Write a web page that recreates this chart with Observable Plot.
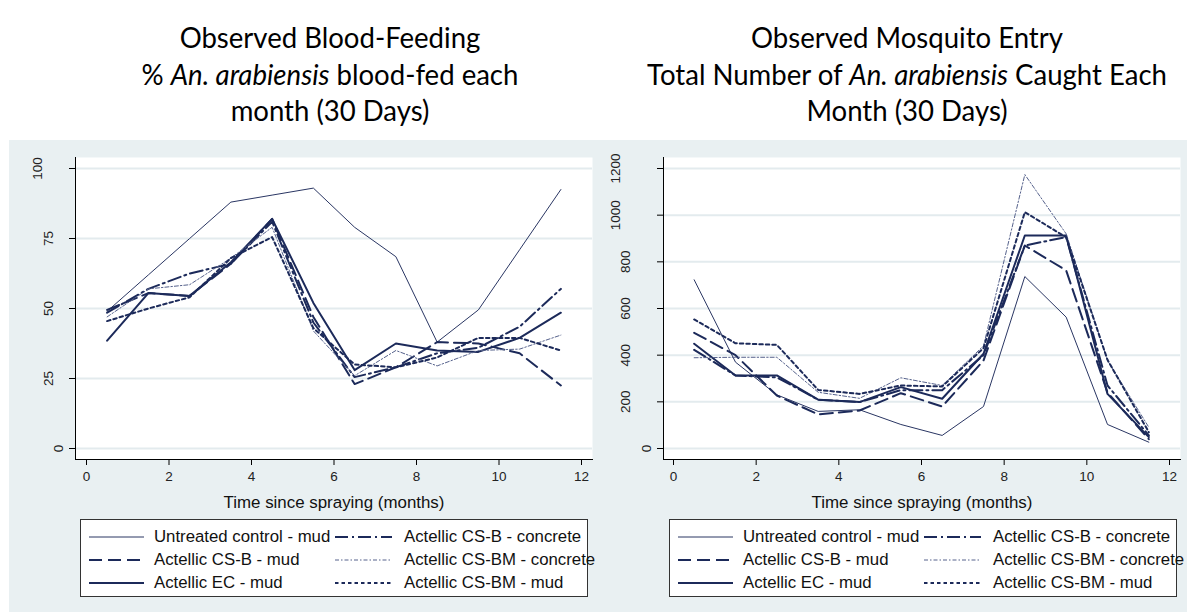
<!DOCTYPE html>
<html>
<head>
<meta charset="utf-8">
<script src="https://cdn.jsdelivr.net/npm/d3@7"></script>
<script src="https://cdn.jsdelivr.net/npm/@observablehq/plot@0.6"></script>
<style>
  body { margin: 0; background: #fff; }
  #wrap { position: relative; width: 1187px; height: 612px; overflow: hidden; font-family: "Liberation Sans", Arial, sans-serif; }
  .bg { position: absolute; left: 9px; top: 140px; width: 1178px; height: 472px; background: #e9f0f2; }
  .title { position: absolute; top: 19px; text-align: center; font-family: Lato, "Open Sans", sans-serif; font-size: 29px; line-height: 36.5px; color: #000; white-space: nowrap; transform: translateX(-50%) scaleX(0.95); }
  .plot { position: absolute; top: 140px; }
  .legend { position: absolute; top: 519px; width: 508px; height: 78px; border: 1px solid #333; background: #fff; box-sizing: border-box; }
  .legend svg { position: absolute; }
  .legend span { position: absolute; font-size: 16.8px; color: #111; white-space: nowrap; line-height: 20px; }
</style>
</head>
<body>
<div id="wrap">
  <div class="bg"></div>
  <div class="title" id="t1" style="left:330px"></div>
  <div class="title" id="t2" style="left:907px"></div>
  <div class="plot" id="p1" style="left:9px"></div>
  <div class="plot" id="p2" style="left:593px"></div>
  <div class="legend" id="l1" style="left:80px"></div>
  <div class="legend" id="l2" style="left:669px"></div>
</div>
<script>
// ---- data ----
const months = [0.5, 1.5, 2.5, 3.5, 4.5, 5.5, 6.5, 7.5, 8.5, 9.5, 10.5, 11.5];
const seriesNames = [
  "Untreated control - mud",
  "Actellic CS-B - mud",
  "Actellic EC - mud",
  "Actellic CS-B - concrete",
  "Actellic CS-BM - concrete",
  "Actellic CS-BM - mud"
];
// % blood-fed
const bfUntreated = [49, 62, 75, 88, 90.5, 93, 79, 68.5, 38, 49.5, 71, 92.5];
const bfCsbMud    = [49.5, 55.5, 54.5, 66, 82, 47, 23, 29, 38, 37.5, 34, 22.5];
const bfEcMud     = [38.5, 55.5, 54.5, 66.5, 82, 52, 28, 37.5, 35, 34.5, 39.5, 48.5];
const bfCsbConc   = [48.5, 57, 62.5, 66, 81, 45, 25.5, 29, 34, 36, 43.5, 57];
const bfCsbmConc  = [47, 57, 58.5, 68, 79, 42, 26, 35, 29.5, 35, 35.5, 40.5];
const bfCsbmMud   = [45.5, 50, 54, 68, 75.5, 43, 30, 29, 32.5, 39.5, 39.5, 35];
// total caught
const meUntreated = [723, 370, 230, 159, 166, 103, 56, 180, 737, 563, 103, 27];
const meCsbMud    = [496, 400, 227, 146, 163, 237, 180, 377, 870, 763, 240, 40];
const meEcMud     = [449, 313, 313, 209, 199, 263, 213, 406, 913, 913, 234, 49];
const meCsbConc   = [423, 313, 305, 209, 199, 250, 250, 400, 870, 906, 270, 56];
const meCsbmConc  = [389, 391, 391, 241, 215, 303, 270, 440, 1174, 920, 377, 91];
const meCsbmMud   = [553, 451, 444, 251, 234, 270, 266, 430, 1013, 905, 380, 70];

const xTicks = [0, 2, 4, 6, 8, 10, 12];
const bfTicks = [0, 25, 50, 75, 100];
const meTicks = [0, 200, 400, 600, 800, 1000, 1200];
const xLabel = "Time since spraying (months)";
const title1 = ["Observed Blood-Feeding", "% <i>An. arabiensis</i> blood-fed each", "month (30 Days)"];
const title2 = ["Observed Mosquito Entry", "Total Number of <i>An. arabiensis</i> Caught Each", "Month (30 Days)"];

// ---- styles ----
const navy = "#1c2a5a";
const styles = {
  "Untreated control - mud":   {w: 1,   dash: null,        color: "#2a3663"},
  "Actellic CS-B - mud":       {w: 2,   dash: "13 6",      color: navy},
  "Actellic EC - mud":         {w: 2,   dash: null,        color: navy},
  "Actellic CS-B - concrete":  {w: 2,   dash: "13 4 2 4",  color: navy},
  "Actellic CS-BM - concrete": {w: 1,   dash: "4 2 1.5 2", color: "#56628c"},
  "Actellic CS-BM - mud":      {w: 2,   dash: "3.5 3",     color: navy}
};

document.getElementById("t1").innerHTML = title1.join("<br>");
document.getElementById("t2").innerHTML = title2.join("<br>");

function chart(values, yMax, yTicks, width, marginLeft, marginRight, insetLeft, insetRight) {
  const marks = [
    Plot.frame({fill: "white", stroke: null}),
    Plot.gridY(yTicks, {stroke: "#e3ebee", strokeOpacity: 1, strokeWidth: 2}),
    Plot.frame({anchor: "left", stroke: "#000", strokeWidth: 1}),
    Plot.frame({anchor: "bottom", stroke: "#000", strokeWidth: 1}),
    Plot.axisX(xTicks, {tickSize: 6, tickPadding: 6, fontSize: 13.5, label: null, stroke: "#000", fill: "#222"}),
    Plot.axisY(yTicks, {tickSize: 6, tickFormat: () => "", label: null, stroke: "#000"}),
    Plot.text([xLabel], {frameAnchor: "bottom", dy: 43, lineAnchor: "middle", fontSize: 16.9, fill: "#111"})
  ];
  const byLen = d3.group(yTicks, t => String(t).length);
  for (const [len, ticks] of byLen) {
    marks.push(Plot.text(ticks, {y: d => d, text: d => String(d), frameAnchor: "left", rotate: -90,
      dx: -(16.5 + 10.5 * (len - 1)), textAnchor: "middle", lineAnchor: "middle", fontSize: 13.5, fill: "#222"}));
  }
  seriesNames.forEach((s, i) => {
    const st = styles[s];
    const rows = months.map((m, j) => ({month: m, value: values[i][j]}));
    marks.push(Plot.line(rows, {x: "month", y: "value", stroke: st.color, strokeWidth: st.w,
      strokeDasharray: st.dash || undefined}));
  });
  return Plot.plot({
    width, height: 380,
    marginTop: 17, marginBottom: 61, marginLeft, marginRight,
    x: {domain: [0, 12], insetLeft, insetRight},
    y: {domain: [0, yMax], insetTop: 11, insetBottom: 11},
    style: {background: "transparent", fontFamily: "'Liberation Sans', Arial, sans-serif", overflow: "visible"},
    marks
  });
}

document.getElementById("p1").append(chart(
  [bfUntreated, bfCsbMud, bfEcMud, bfCsbConc, bfCsbmConc, bfCsbmMud], 100, bfTicks, 584, 66, 1, 11, 11));
document.getElementById("p2").append(chart(
  [meUntreated, meCsbMud, meEcMud, meCsbConc, meCsbmConc, meCsbmMud], 1200, meTicks, 594, 70, 7, 10, 11));

// legend
const legendOrder = [
  ["Untreated control - mud", "Actellic CS-B - concrete"],
  ["Actellic CS-B - mud", "Actellic CS-BM - concrete"],
  ["Actellic EC - mud", "Actellic CS-BM - mud"]
];
function buildLegend(el) {
  const cols = [{sx: 8, sw: 55, tx: 73}, {sx: 254, sw: 57, tx: 323}];
  const rowsY = [17, 40, 63];
  legendOrder.forEach((row, r) => {
    row.forEach((name, c) => {
      const st = styles[name];
      const col = cols[c];
      const svg = d3.create("svg").attr("width", col.sw).attr("height", 10)
        .style("left", col.sx + "px").style("top", (rowsY[r] - 5) + "px");
      svg.append("line").attr("x1", 0).attr("x2", col.sw).attr("y1", 5).attr("y2", 5)
        .attr("stroke", st.color).attr("stroke-width", st.w)
        .attr("stroke-dasharray", st.dash);
      el.append(svg.node());
      const span = document.createElement("span");
      span.textContent = name;
      span.style.left = col.tx + "px";
      span.style.top = (rowsY[r] - 10) + "px";
      el.append(span);
    });
  });
}
buildLegend(document.getElementById("l1"));
buildLegend(document.getElementById("l2"));
</script>
</body>
</html>
